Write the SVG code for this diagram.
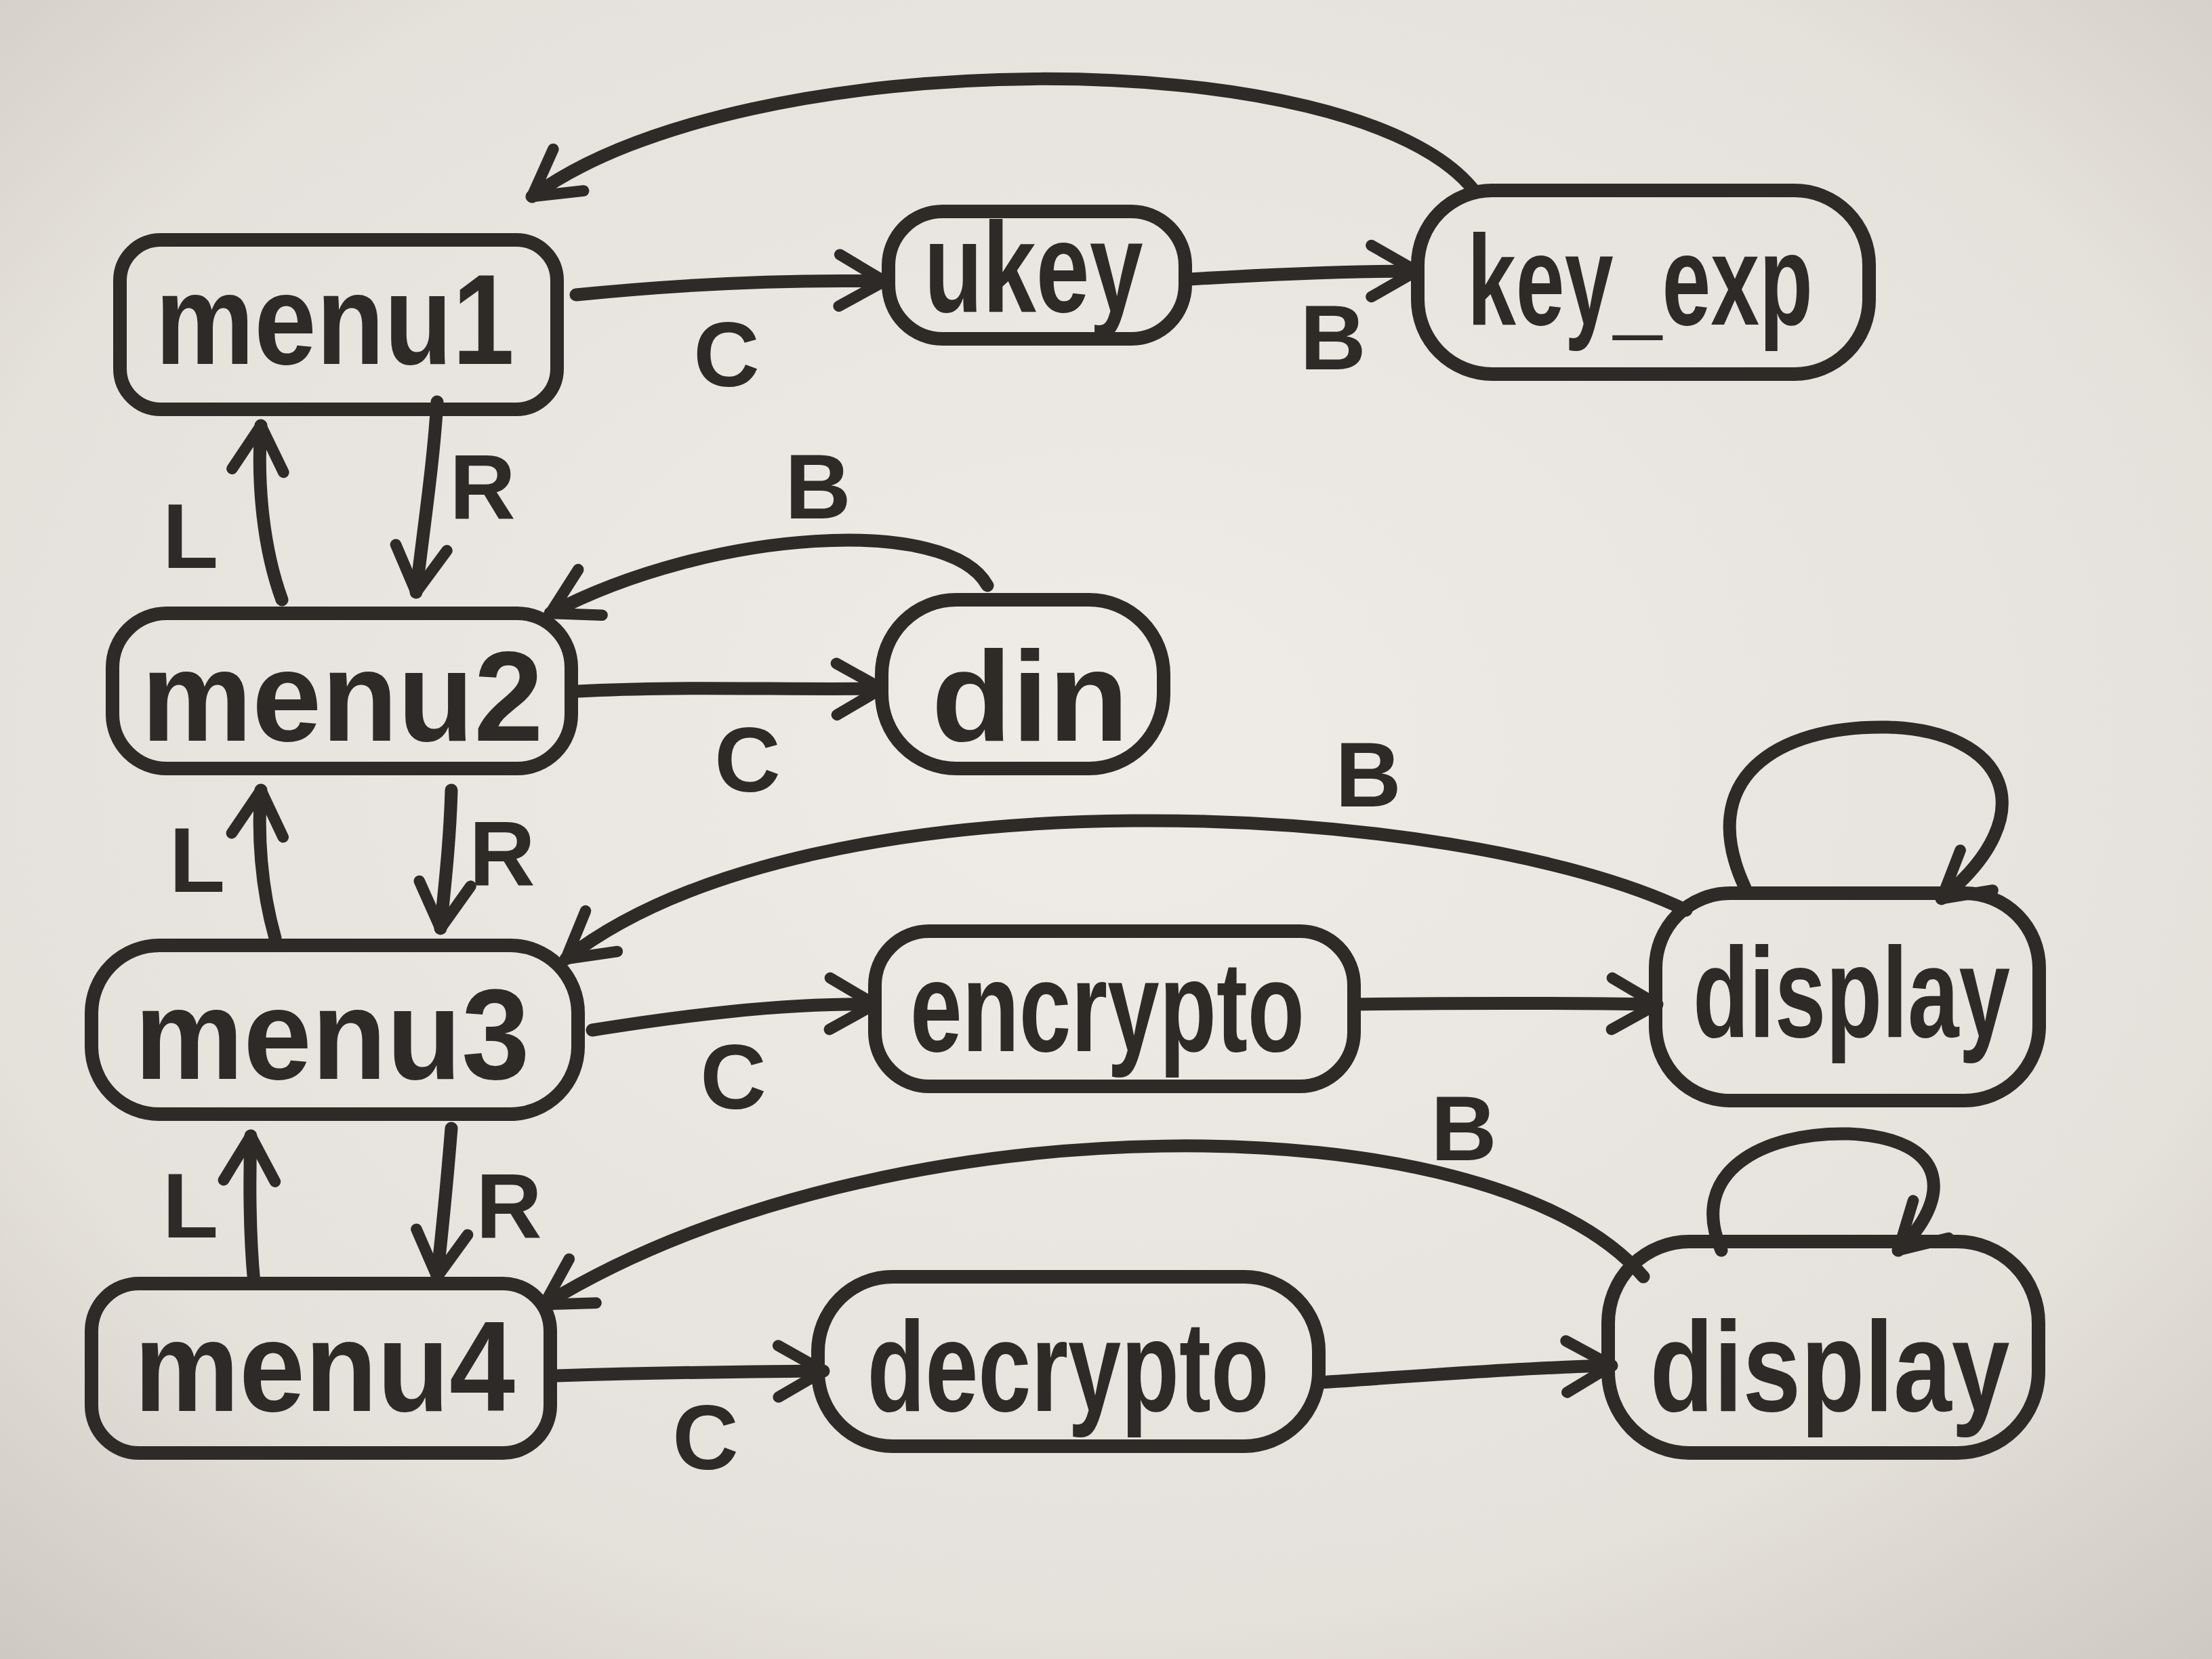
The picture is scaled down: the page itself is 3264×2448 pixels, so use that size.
<svg xmlns="http://www.w3.org/2000/svg" width="3264" height="2448" viewBox="0 0 3264 2448">
<defs>
<radialGradient id="paper" cx="50%" cy="45%" r="75%">
<stop offset="0" stop-color="#efece8"/>
<stop offset="0.7" stop-color="#e5e1db"/>
<stop offset="1" stop-color="#cdc8c2"/>
</radialGradient>
<marker id="arr" viewBox="0 0 40 40" refX="34" refY="20" markerWidth="5" markerHeight="5" markerUnits="strokeWidth" orient="auto">
<polyline points="6,4 34,20 6,36" fill="none" stroke="#2d2a28" stroke-width="7" stroke-linecap="round" stroke-linejoin="round"/>
</marker>
<style>
.node{fill:none;stroke:#2d2a28;stroke-width:20;stroke-linejoin:round}
.lbl{font-family:"Liberation Sans","DejaVu Sans",sans-serif;font-size:190px;font-weight:bold;fill:#2d2a28;text-anchor:middle}
.el{font-family:"Liberation Sans","DejaVu Sans",sans-serif;font-size:135px;font-weight:bold;fill:#2d2a28;text-anchor:middle}
.edge{fill:none;stroke:#2d2a28;stroke-width:19;stroke-linecap:round;marker-end:url(#arr)}
</style>
</defs>
<rect x="0" y="0" width="3264" height="2448" fill="url(#paper)"/>

<g id="connectors">
<path class="edge" d="M850,435 C1000,420 1150,412 1305,415"/>
<path class="edge" d="M1755,412 C1870,405 1980,400 2090,400"/>
<path class="edge" d="M2175,281 C2000,60 1100,60 785,290"/>
<path class="edge" d="M645,593 C640,680 625,780 614,874"/>
<path class="edge" d="M416,885 C385,800 380,700 385,628"/>
<path class="edge" d="M1457,864 C1400,760 1050,780 812,905"/>
<path class="edge" d="M853,1020 C1000,1012 1150,1018 1301,1016"/>
<path class="edge" d="M666,1166 C664,1240 656,1310 650,1370"/>
<path class="edge" d="M406,1384 C385,1310 380,1230 385,1166"/>
<path class="edge" d="M874,1520 C1000,1500 1150,1480 1291,1482"/>
<path class="edge" d="M1998,1482 C2150,1480 2300,1480 2445,1482"/>
<path class="edge" d="M2488,1343 C2150,1180 1200,1130 835,1415"/>
<path class="edge" d="M2575,1310 C2500,1150 2620,1070 2785,1073 C2960,1078 3020,1200 2865,1326"/>
<path class="edge" d="M666,1665 C660,1740 652,1820 645,1884"/>
<path class="edge" d="M375,1894 C368,1820 368,1740 370,1676"/>
<path class="edge" d="M822,2030 C950,2026 1080,2024 1215,2023"/>
<path class="edge" d="M1946,2040 C2100,2030 2250,2018 2378,2015"/>
<path class="edge" d="M2425,1884 C2200,1620 1300,1620 803,1925"/>
<path class="edge" d="M2540,1845 C2490,1730 2600,1670 2728,1673 C2880,1680 2880,1770 2801,1845"/>
</g>
<g id="edge-labels">
<text class="el" x="1072" y="570">C</text>
<text class="el" x="1967" y="545">B</text>
<text class="el" x="712" y="765">R</text>
<text class="el" x="281" y="838">L</text>
<text class="el" x="1207" y="765">B</text>
<text class="el" x="1103" y="1168">C</text>
<text class="el" x="741" y="1306">R</text>
<text class="el" x="291" y="1316">L</text>
<text class="el" x="1082" y="1636">C</text>
<text class="el" x="2019" y="1190">B</text>
<text class="el" x="751" y="1826">R</text>
<text class="el" x="281" y="1826">L</text>
<text class="el" x="1041" y="2168">C</text>
<text class="el" x="2160" y="1712">B</text>
</g>

<g id="menu1">
<rect class="node" x="177" y="354" width="645" height="250" rx="60"/>
<text class="lbl" x="494" y="537" textLength="530" lengthAdjust="spacingAndGlyphs">menu1</text>
</g>
<g id="ukey">
<rect class="node" x="1311" y="312" width="438" height="188" rx="80"/>
<text class="lbl" x="1525" y="460" textLength="323" lengthAdjust="spacingAndGlyphs">ukey</text>
</g>
<g id="key_exp">
<rect class="node" x="2092" y="281" width="666" height="271" rx="110"/>
<text class="lbl" x="2420" y="479" textLength="510" lengthAdjust="spacingAndGlyphs">key_exp</text>
</g>
<g id="menu2">
<rect class="node" x="166" y="905" width="677" height="229" rx="80"/>
<text class="lbl" x="505" y="1093" textLength="593" lengthAdjust="spacingAndGlyphs">menu2</text>
</g>
<g id="din">
<rect class="node" x="1301" y="885" width="416" height="249" rx="110"/>
<text class="lbl" x="1520" y="1093" textLength="291" lengthAdjust="spacingAndGlyphs">din</text>
</g>
<g id="menu3">
<rect class="node" x="135" y="1395" width="718" height="249" rx="100"/>
<text class="lbl" x="490" y="1592" textLength="583" lengthAdjust="spacingAndGlyphs">menu3</text>
</g>
<g id="encrypto">
<rect class="node" x="1291" y="1374" width="707" height="229" rx="80"/>
<text class="lbl" x="1634" y="1551" textLength="582" lengthAdjust="spacingAndGlyphs">encrypto</text>
</g>
<g id="display1">
<rect class="node" x="2443" y="1318" width="566" height="306" rx="110"/>
<text class="lbl" x="2732" y="1530" textLength="468" lengthAdjust="spacingAndGlyphs">display</text>
</g>
<g id="menu4">
<rect class="node" x="135" y="1894" width="677" height="250" rx="70"/>
<text class="lbl" x="479" y="2082" textLength="562" lengthAdjust="spacingAndGlyphs">menu4</text>
</g>
<g id="decrypto">
<rect class="node" x="1207" y="1884" width="739" height="250" rx="110"/>
<text class="lbl" x="1576" y="2082" textLength="593" lengthAdjust="spacingAndGlyphs">decrypto</text>
</g>
<g id="display2">
<rect class="node" x="2373" y="1832" width="635" height="312" rx="120"/>
<text class="lbl" x="2700" y="2082" textLength="531" lengthAdjust="spacingAndGlyphs">display</text>
</g>
</svg>
